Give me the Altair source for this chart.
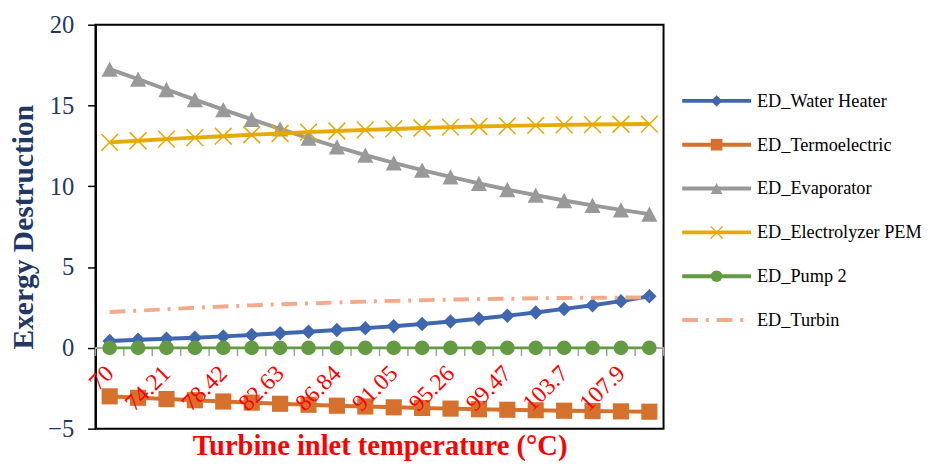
import altair as alt
import pandas as pd

# ---------------- data ----------------
temps = [70, 72.11, 74.21, 76.32, 78.42, 80.53, 82.63, 84.74, 86.84, 88.95,
         91.05, 93.16, 95.26, 97.37, 99.47, 101.6, 103.7, 105.8, 107.9, 110]
tick_labels = ["70", "72.11", "74.21", "76.32", "78.42", "80.53", "82.63", "84.74",
               "86.84", "88.95", "91.05", "93.16", "95.26", "97.37", "99.47",
               "101.6", "103.7", "105.8", "107.9", "110"]

water_heater = [0.43, 0.50, 0.56, 0.63, 0.71, 0.80, 0.90, 1.00, 1.11, 1.22,
                1.34, 1.48, 1.63, 1.80, 1.99, 2.19, 2.41, 2.64, 2.89, 3.19]
termoelectric = [-3.00, -3.09, -3.17, -3.24, -3.32, -3.39, -3.46, -3.52, -3.58, -3.63,
                 -3.68, -3.72, -3.76, -3.80, -3.83, -3.86, -3.89, -3.91, -3.93, -3.95]
evaporator = [17.25, 16.63, 15.99, 15.36, 14.74, 14.14, 13.55, 12.98, 12.44, 11.93,
              11.45, 11.00, 10.58, 10.18, 9.80, 9.45, 9.12, 8.82, 8.54, 8.28]
electrolyzer = [12.72, 12.82, 12.92, 13.01, 13.10, 13.19, 13.27, 13.35, 13.42, 13.49,
                13.55, 13.61, 13.66, 13.70, 13.74, 13.77, 13.80, 13.82, 13.84, 13.85]
pump2 = [0, 0, 0, 0, 0, 0, 0, 0, 0, 0, 0, 0, 0, 0, 0, 0, 0, 0, 0, 0]
turbin = [2.22, 2.30, 2.39, 2.48, 2.56, 2.63, 2.70, 2.75, 2.81, 2.86,
          2.91, 2.95, 2.99, 3.02, 3.04, 3.07, 3.09, 3.10, 3.11, 3.12]

names = ["ED_Water Heater", "ED_Termoelectric", "ED_Evaporator",
         "ED_Electrolyzer PEM", "ED_Pump 2", "ED_Turbin"]
series_values = [water_heater, termoelectric, evaporator, electrolyzer, pump2, turbin]

# ---------------- styles ----------------
colors = ["#3f67b0", "#d6712d", "#999999", "#e5aa04", "#629b41", "#f3aa8b"]
TRI = "M0,-0.95L1,0.95L-1,0.95Z"
XMARK = "M-1,-1L1,1M-1,1L1,-1"
shapes = ["diamond", "square", TRI, XMARK, "circle", None]
sizes = [215, 270, 270, 290, 225, 0]
legend_sizes = [135, 140, 140, 150, 140, 0]
widths = [4, 4, 4, 4, 3, 4]
dashes = [None, None, None, None, None, [16, 8, 3, 8]]

SERIF = "Liberation Serif"
NAVY = "#1f3864"

rows = []
for name, vals in zip(names, series_values):
    for i, v in enumerate(vals):
        rows.append({"series": name, "idx": i, "temp": temps[i], "value": v})
df = pd.DataFrame(rows)

tick_df = pd.DataFrame({"idx": [i - 0.5 for i in range(len(temps) + 1)]})

W, H = 578, 411
ymin, ymax = -5, 20
zero_offset = -(H * (0 - ymin) / (ymax - ymin))

label_array = "[" + ",".join("'" + s + "'" for s in tick_labels) + "]"

xscale = alt.Scale(domain=[-0.5, len(temps) - 0.5], nice=False, zero=False)
yscale = alt.Scale(domain=[ymin, ymax], nice=False, zero=False)

x_axis = alt.Axis(
    values=list(range(0, len(temps), 2)),
    labelExpr=label_array + "[datum.value]",
    labelAngle=-45, labelAlign="right", labelBaseline="middle",
    labelFont=SERIF, labelFontSize=24, labelColor="#ff0000",
    labelPadding=22, labelOverlap=False, labelFlush=False,
    ticks=False, grid=False, domain=False, zindex=1,
    offset=zero_offset,
    title="Turbine inlet temperature (°C)",
    titleFont=SERIF, titleFontSize=29, titleFontWeight="bold", titleColor="#ff0000",
    titleBaseline="middle", titleY=100,
)
y_axis = alt.Axis(
    values=[-5, 0, 5, 10, 15, 20],
    labelFont=SERIF, labelFontSize=25, labelColor=NAVY, labelPadding=14,
    tickSize=8, tickColor="black", tickWidth=1.5,
    domainColor="black", domainWidth=2, grid=False,
    title="Exergy Destruction", titleFont=SERIF, titleFontSize=30,
    titleFontWeight="bold", titleColor=NAVY, titlePadding=9,
)

X = alt.X("idx:Q", scale=xscale, axis=x_axis)
Y = alt.Y("value:Q", scale=yscale, axis=y_axis)

base = alt.Chart(df).encode(x=X, y=Y)

layers = []
# gray horizontal axis line at zero and category tick marks below it
zero_line = alt.Chart(tick_df).mark_rule(color="#a6a6a6", strokeWidth=1.5).encode(
    y=alt.datum(0, scale=yscale, axis=y_axis),
)
ticks = alt.Chart(tick_df).mark_rule(color="#a0a0a0", strokeWidth=1.5).encode(
    x=alt.X("idx:Q", scale=xscale, axis=x_axis),
    y=alt.datum(0, scale=yscale, axis=y_axis), y2=alt.datum(-0.5),
)
layers += [ticks, zero_line]

for name, color, shape, size, w, dash in zip(names, colors, shapes, sizes, widths, dashes):
    sub = base.transform_filter(alt.datum.series == name)
    if dash:
        layers.append(sub.mark_line(color=color, strokeWidth=w, strokeDash=dash))
    else:
        layers.append(sub.mark_line(color=color, strokeWidth=w))
    if shape == XMARK:
        layers.append(sub.mark_point(shape=shape, size=size, filled=False,
                                     color=color, strokeWidth=1.6, opacity=1))
    elif shape:
        layers.append(sub.mark_point(shape=shape, size=size, filled=True,
                                     color=color, opacity=1))

main = alt.layer(*layers).properties(
    width=W, height=H,
    view=alt.ViewBackground(stroke="black", strokeWidth=2),
)

# ---------------- legend panel ----------------
legend_df = pd.DataFrame({"series": names, "row": list(range(len(names)))})
row_step = 44.6
first_row = 77.5
ly = alt.Y("row:Q", axis=None,
           scale=alt.Scale(domain=[-first_row / row_step, (H - first_row) / row_step],
                           reverse=True, nice=False, zero=False))
lbase = alt.Chart(legend_df).encode(y=ly)
leg_layers = []
for name, color, shape, size, w, dash in zip(names, colors, shapes, legend_sizes, widths, dashes):
    sub = lbase.transform_filter(alt.datum.series == name)
    if dash:
        leg_layers.append(sub.mark_rule(color=color, strokeWidth=4, strokeDash=dash)
                          .encode(x=alt.value(0), x2=alt.value(66)))
    else:
        leg_layers.append(sub.mark_rule(color=color, strokeWidth=4)
                          .encode(x=alt.value(0), x2=alt.value(70)))
    if shape == XMARK:
        leg_layers.append(sub.mark_point(shape=shape, size=size, filled=False, color=color,
                                         strokeWidth=1.4, opacity=1).encode(x=alt.value(35)))
    elif shape:
        leg_layers.append(sub.mark_point(shape=shape, size=size, filled=True, color=color,
                                         opacity=1).encode(x=alt.value(35)))
leg_layers.append(lbase.mark_text(align="left", baseline="middle", font=SERIF,
                                  fontSize=18.6, color="black")
                  .encode(x=alt.value(76), text="series:N"))

legend_panel = alt.layer(*leg_layers).properties(
    width=236, height=H,
    view=alt.ViewBackground(stroke="transparent"),
)

chart = alt.hconcat(main, legend_panel, spacing=14).properties(
    padding={"left": 0, "top": 0, "right": 0, "bottom": 0},
).configure(background="white")

chart.save("out.html", embed_options={"renderer": "svg", "actions": False})
